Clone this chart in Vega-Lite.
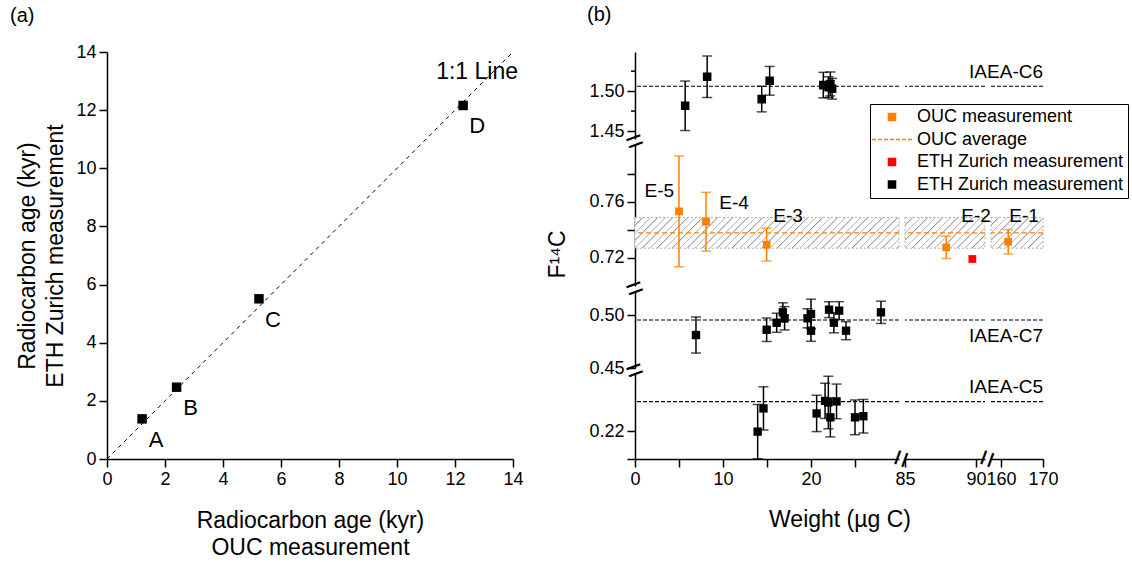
{
"$schema": "https://vega.github.io/schema/vega-lite/v6.json",
"padding": {"left": 10, "top": 5, "right": 5, "bottom": 5},
"background": "white",
"config": {
 "font": "Liberation Sans",
 "view": {"stroke": null},
 "axis": {"domainColor": "#000", "domainWidth": 1.5, "tickColor": "#000", "tickWidth": 1.5, "tickSize": 8, "labelColor": "#000", "labelFontSize": 18, "labelPadding": 3, "titleFontSize": 23, "titleFontWeight": "normal", "titleColor": "#000", "grid": false, "labelFlush": false, "labelOverlap": false},
 "title": {"fontSize": 20, "fontWeight": "normal", "color": "#000"},
 "text": {"color": "#000"}
},
"datasets": {
 "ages": [
  {"ouc": 1.21, "eth": 1.38, "label": "A"},
  {"ouc": 2.40, "eth": 2.47, "label": "B"},
  {"ouc": 5.24, "eth": 5.51, "label": "C"},
  {"ouc": 12.28, "eth": 12.16, "label": "D"}
 ],
 "labels": [
  {"x": 2.76, "y": 0.768, "t": "E-5"},
  {"x": 11.25, "y": 0.7593, "t": "E-4"},
  {"x": 17.4, "y": 0.7502, "t": "E-3"},
  {"x": 90.0, "y": 0.750, "t": "E-2"},
  {"x": 165.5, "y": 0.750, "t": "E-1"}
 ],
 "pts": [
  {"g": "C6", "w": 5.7, "f": 1.4816, "err": 0.031, "s": "ETH Zurich measurement "},
  {"g": "C6", "w": 8.2, "f": 1.518, "err": 0.026, "s": "ETH Zurich measurement "},
  {"g": "C6", "w": 14.4, "f": 1.490, "err": 0.016, "s": "ETH Zurich measurement "},
  {"g": "C6", "w": 15.3, "f": 1.5129, "err": 0.018, "s": "ETH Zurich measurement "},
  {"g": "C6", "w": 21.4, "f": 1.5075, "err": 0.016, "s": "ETH Zurich measurement "},
  {"g": "C6", "w": 22.0, "f": 1.505, "err": 0.013, "s": "ETH Zurich measurement "},
  {"g": "C6", "w": 22.2, "f": 1.509, "err": 0.015, "s": "ETH Zurich measurement "},
  {"g": "C6", "w": 22.4, "f": 1.503, "err": 0.013, "s": "ETH Zurich measurement "},
  {"g": "OUC", "w": 5.0, "f": 0.7533, "err": 0.0396, "s": "OUC measurement"},
  {"g": "OUC", "w": 8.07, "f": 0.7459, "err": 0.021, "s": "OUC measurement"},
  {"g": "OUC", "w": 14.96, "f": 0.7295, "err": 0.0117, "s": "OUC measurement"},
  {"g": "OUC", "w": 87.9, "f": 0.7276, "err": 0.008, "s": "OUC measurement"},
  {"g": "OUC", "w": 161.7, "f": 0.7316, "err": 0.0087, "s": "OUC measurement"},
  {"g": "OUC", "w": 89.74, "f": 0.7193, "err": 0, "s": "ETH Zurich measurement"},
  {"g": "C7", "w": 6.93, "f": 0.4811, "err": 0.017, "s": "ETH Zurich measurement "},
  {"g": "C7", "w": 14.96, "f": 0.4861, "err": 0.011, "s": "ETH Zurich measurement "},
  {"g": "C7", "w": 16.1, "f": 0.4927, "err": 0.009, "s": "ETH Zurich measurement "},
  {"g": "C7", "w": 16.8, "f": 0.5025, "err": 0.009, "s": "ETH Zurich measurement "},
  {"g": "C7", "w": 17.0, "f": 0.4969, "err": 0.011, "s": "ETH Zurich measurement "},
  {"g": "C7", "w": 19.6, "f": 0.4969, "err": 0.009, "s": "ETH Zurich measurement "},
  {"g": "C7", "w": 20.0, "f": 0.5009, "err": 0.014, "s": "ETH Zurich measurement "},
  {"g": "C7", "w": 20.0, "f": 0.4852, "err": 0.010, "s": "ETH Zurich measurement "},
  {"g": "C7", "w": 22.05, "f": 0.505, "err": 0.0075, "s": "ETH Zurich measurement "},
  {"g": "C7", "w": 22.6, "f": 0.4927, "err": 0.0095, "s": "ETH Zurich measurement "},
  {"g": "C7", "w": 23.2, "f": 0.5041, "err": 0.0085, "s": "ETH Zurich measurement "},
  {"g": "C7", "w": 23.98, "f": 0.4852, "err": 0.0085, "s": "ETH Zurich measurement "},
  {"g": "C7", "w": 27.95, "f": 0.5025, "err": 0.0105, "s": "ETH Zurich measurement "},
  {"g": "C5", "w": 13.94, "f": 0.2198, "err": 0.0097, "s": "ETH Zurich measurement "},
  {"g": "C5", "w": 14.6, "f": 0.2281, "err": 0.0077, "s": "ETH Zurich measurement "},
  {"g": "C5", "w": 20.64, "f": 0.2263, "err": 0.0065, "s": "ETH Zurich measurement "},
  {"g": "C5", "w": 21.6, "f": 0.2308, "err": 0.0063, "s": "ETH Zurich measurement "},
  {"g": "C5", "w": 21.97, "f": 0.2302, "err": 0.0094, "s": "ETH Zurich measurement "},
  {"g": "C5", "w": 22.2, "f": 0.2249, "err": 0.007, "s": "ETH Zurich measurement "},
  {"g": "C5", "w": 22.9, "f": 0.2306, "err": 0.0062, "s": "ETH Zurich measurement "},
  {"g": "C5", "w": 25.0, "f": 0.2249, "err": 0.0062, "s": "ETH Zurich measurement "},
  {"g": "C5", "w": 25.95, "f": 0.2253, "err": 0.006, "s": "ETH Zurich measurement "}
 ]
},
"bounds": "flush",
"spacing": 122,
"resolve": {"scale": {"x": "independent", "y": "independent"}, "legend": {"fill": "independent", "stroke": "independent", "shape": "independent"}},
"hconcat": [
 {
  "width": 406, "height": 407,
  "title": {"text": "(a)", "anchor": "start", "frame": "group", "dx": -97, "offset": 17},
  "layer": [
   {"data": {"values": [{}]}, "mark": {"type": "rule", "strokeDash": [4, 4], "strokeWidth": 1, "color": "#000"},
    "encoding": {
     "x": {"datum": 0, "type": "quantitative", "scale": {"domain": [0, 14], "nice": false}, "axis": {"title": ["Radiocarbon age (kyr)", "OUC measurement"], "titleLineHeight": 27, "titlePadding": 21, "values": [0, 2, 4, 6, 8, 10, 12, 14]}},
     "y": {"datum": 0, "type": "quantitative", "scale": {"domain": [0, 14], "nice": false}, "axis": {"title": ["Radiocarbon age (kyr)", "ETH Zurich measurement"], "titleLineHeight": 28, "titlePadding": 8, "values": [0, 2, 4, 6, 8, 10, 12, 14]}},
     "x2": {"datum": 14}, "y2": {"datum": 14}}},
   {"data": {"name": "ages"}, "mark": {"type": "square", "size": 90, "color": "#000", "opacity": 1},
    "encoding": {"x": {"field": "ouc", "type": "quantitative"}, "y": {"field": "eth", "type": "quantitative"}}},
   {"data": {"name": "ages"}, "mark": {"type": "text", "fontSize": 22, "dx": 14, "dy": 21, "align": "center", "baseline": "middle", "color": "#000"},
    "encoding": {"x": {"field": "ouc", "type": "quantitative"}, "y": {"field": "eth", "type": "quantitative"}, "text": {"field": "label"}}},
   {"data": {"values": [{}]}, "mark": {"type": "text", "text": "1:1 Line", "fontSize": 23, "align": "right", "baseline": "middle", "dx": 5, "dy": 20, "color": "#000"},
    "encoding": {"x": {"datum": 14, "type": "quantitative"}, "y": {"datum": 14, "type": "quantitative"}}}
  ]
 },
 {
  "title": {"text": "(b)", "anchor": "start", "frame": "group", "dx": -48, "offset": 27},
  "columns": 3,
  "spacing": 6,
  "bounds": "flush",
  "align": "each",
  "resolve": {"scale": {"x": "independent", "y": "independent"}, "legend": {"fill": "independent", "stroke": "independent", "shape": "independent"}},
  "concat": [
   {"width": 264, "height": 87, "layer": [
    {"data": {"values": [{}]}, "mark": {"type": "rule", "strokeDash": [4, 2], "strokeWidth": 1.2, "color": "#000"},
     "encoding": {"y": {"datum": 1.5061, "type": "quantitative", "title": null, "scale": {"domain": [1.44, 1.549], "nice": false, "zero": false},
      "axis": {"labelOverlap": false, "values": [1.45, 1.5], "format": ".2f"}}}},
    {"data": {"values": [{"v": 1.475}, {"v": 1.525}]}, "mark": {"type": "rule", "strokeWidth": 1.5, "color": "#000"},
     "encoding": {"x": {"datum": -0.45, "type": "quantitative", "axis": null}, "x2": {"datum": 0}, "y": {"field": "v", "type": "quantitative", "title": null}}},
    {"data": {"name": "pts"}, "transform": [{"filter": "datum.g == 'C6' && datum.err > 0"}],
     "mark": {"type": "errorbar", "ticks": {"size": 10, "thickness": 1.5}, "rule": {"strokeWidth": 1.5}},
     "encoding": {"x": {"field": "w", "type": "quantitative", "scale": {"domain": [0, 30], "nice": false, "zero": false}, "axis": null},
      "y": {"field": "f", "type": "quantitative", "title": null}, "yError": {"field": "err"},
      "color": {"field": "s", "type": "nominal", "scale": {"domain": ["OUC measurement", "OUC average", "ETH Zurich measurement", "ETH Zurich measurement "], "range": ["#ff8000", "#ff8000", "#ff0000", "#000000"]}, "legend": null}}},
    {"data": {"name": "pts"}, "transform": [{"filter": "datum.g == 'C6'"}],
     "mark": {"type": "point", "filled": true, "size": 50, "strokeWidth": 1.5, "opacity": 1},
     "encoding": {"x": {"field": "w", "type": "quantitative", "axis": null}, "y": {"field": "f", "type": "quantitative", "title": null},
      "fill": {"field": "s", "type": "nominal", "scale": {"domain": ["OUC measurement", "OUC average", "ETH Zurich measurement", "ETH Zurich measurement "], "range": ["#ff8000", "#ff8000", "#ff0000", "#000000"]},
       "legend": {"title": null, "orient": "none", "legendX": 235, "legendY": 52, "labelFontSize": 18, "labelColor": "#000", "labelLimit": 400, "symbolSize": 50, "symbolStrokeWidth": 1.5, "symbolOffset": 9, "labelOffset": 16, "rowPadding": 4.5, "padding": 4, "strokeColor": "#000", "fillColor": "#fff"}},
      "stroke": {"field": "s", "type": "nominal", "scale": {"domain": ["OUC measurement", "OUC average", "ETH Zurich measurement", "ETH Zurich measurement "], "range": ["#ff8000", "#ff8000", "#ff0000", "#000000"]},
       "legend": {"title": null, "orient": "none", "legendX": 235, "legendY": 52, "labelFontSize": 18, "labelColor": "#000", "labelLimit": 400, "symbolSize": 50, "symbolStrokeWidth": 1.5, "symbolOffset": 9, "labelOffset": 16, "rowPadding": 4.5, "padding": 4, "strokeColor": "#000", "fillColor": "#fff"}},
      "shape": {"field": "s", "type": "nominal", "scale": {"domain": ["OUC measurement", "OUC average", "ETH Zurich measurement", "ETH Zurich measurement "], "range": ["square", "M-5.66,0L-4.53,0M-3.96,0L-2.83,0M-2.26,0L-1.13,0M-0.57,0L0.57,0M1.13,0L2.26,0M2.83,0L3.96,0M4.53,0L5.66,0", "square", "square"]},
       "legend": {"title": null, "orient": "none", "legendX": 235, "legendY": 52, "labelFontSize": 18, "labelColor": "#000", "labelLimit": 400, "symbolSize": 50, "symbolStrokeWidth": 1.5, "symbolOffset": 9, "labelOffset": 16, "rowPadding": 4.5, "padding": 4, "strokeColor": "#000", "fillColor": "#fff"}}}},
    {"data": {"values": [{}]}, "mark": {"type": "text", "text": "=", "fontSize": 30, "angle": -20, "align": "center", "baseline": "middle", "color": "#000"},
     "encoding": {"x": {"datum": 0, "type": "quantitative", "axis": null}, "y": {"datum": 1.44, "type": "quantitative", "title": null}, "yOffset": {"value": 3}}}
   ]},
   {"width": 80, "height": 87, "layer": [
    {"data": {"values": [{}]}, "mark": {"type": "rule", "strokeDash": [4, 2], "strokeWidth": 1.2, "color": "#000"},
     "encoding": {"y": {"datum": 1.5061, "type": "quantitative", "scale": {"domain": [1.44, 1.549], "nice": false, "zero": false}, "axis": null}}}
   ]},
   {"width": 52, "height": 87, "layer": [
    {"data": {"values": [{}]}, "mark": {"type": "rule", "strokeDash": [4, 2], "strokeWidth": 1.2, "color": "#000"},
     "encoding": {"y": {"datum": 1.5061, "type": "quantitative", "scale": {"domain": [1.44, 1.549], "nice": false, "zero": false}, "axis": null}}},
    {"data": {"values": [{}]}, "mark": {"type": "text", "text": "IAEA-C6", "fontSize": 19, "align": "right", "baseline": "middle", "color": "#000"},
     "encoding": {"x": {"datum": 170, "type": "quantitative", "scale": {"domain": [157.6, 170], "nice": false, "zero": false}, "axis": null}, "y": {"datum": 1.524, "type": "quantitative", "axis": null}}}
   ]},
   {"width": 264, "height": 141, "layer": [
    {"data": {"values": [{}]}, "mark": {"type": "rect", "stroke": "#b0b0b0", "strokeDash": [2, 2], "strokeWidth": 1,
      "fill": {"gradient": "linear", "x1": 0, "y1": 0, "x2": 1.1211, "y2": 0.1308, "stops": [
       {"offset":0,"color":"#999"},{"offset":0.006,"color":"#fff"},{"offset":0.024,"color":"#fff"},
       {"offset":0.025,"color":"#999"},{"offset":0.031,"color":"#fff"},{"offset":0.049,"color":"#fff"},
       {"offset":0.05,"color":"#999"},{"offset":0.056,"color":"#fff"},{"offset":0.074,"color":"#fff"},
       {"offset":0.075,"color":"#999"},{"offset":0.081,"color":"#fff"},{"offset":0.099,"color":"#fff"},
       {"offset":0.1,"color":"#999"},{"offset":0.106,"color":"#fff"},{"offset":0.124,"color":"#fff"},
       {"offset":0.125,"color":"#999"},{"offset":0.131,"color":"#fff"},{"offset":0.149,"color":"#fff"},
       {"offset":0.15,"color":"#999"},{"offset":0.156,"color":"#fff"},{"offset":0.174,"color":"#fff"},
       {"offset":0.175,"color":"#999"},{"offset":0.181,"color":"#fff"},{"offset":0.199,"color":"#fff"},
       {"offset":0.2,"color":"#999"},{"offset":0.206,"color":"#fff"},{"offset":0.224,"color":"#fff"},
       {"offset":0.225,"color":"#999"},{"offset":0.231,"color":"#fff"},{"offset":0.249,"color":"#fff"},
       {"offset":0.25,"color":"#999"},{"offset":0.256,"color":"#fff"},{"offset":0.274,"color":"#fff"},
       {"offset":0.275,"color":"#999"},{"offset":0.281,"color":"#fff"},{"offset":0.299,"color":"#fff"},
       {"offset":0.3,"color":"#999"},{"offset":0.306,"color":"#fff"},{"offset":0.324,"color":"#fff"},
       {"offset":0.325,"color":"#999"},{"offset":0.331,"color":"#fff"},{"offset":0.349,"color":"#fff"},
       {"offset":0.35,"color":"#999"},{"offset":0.356,"color":"#fff"},{"offset":0.374,"color":"#fff"},
       {"offset":0.375,"color":"#999"},{"offset":0.381,"color":"#fff"},{"offset":0.399,"color":"#fff"},
       {"offset":0.4,"color":"#999"},{"offset":0.406,"color":"#fff"},{"offset":0.424,"color":"#fff"},
       {"offset":0.425,"color":"#999"},{"offset":0.431,"color":"#fff"},{"offset":0.449,"color":"#fff"},
       {"offset":0.45,"color":"#999"},{"offset":0.456,"color":"#fff"},{"offset":0.474,"color":"#fff"},
       {"offset":0.475,"color":"#999"},{"offset":0.481,"color":"#fff"},{"offset":0.499,"color":"#fff"},
       {"offset":0.5,"color":"#999"},{"offset":0.506,"color":"#fff"},{"offset":0.524,"color":"#fff"},
       {"offset":0.525,"color":"#999"},{"offset":0.531,"color":"#fff"},{"offset":0.549,"color":"#fff"},
       {"offset":0.55,"color":"#999"},{"offset":0.556,"color":"#fff"},{"offset":0.574,"color":"#fff"},
       {"offset":0.575,"color":"#999"},{"offset":0.581,"color":"#fff"},{"offset":0.599,"color":"#fff"},
       {"offset":0.6,"color":"#999"},{"offset":0.606,"color":"#fff"},{"offset":0.624,"color":"#fff"},
       {"offset":0.625,"color":"#999"},{"offset":0.631,"color":"#fff"},{"offset":0.649,"color":"#fff"},
       {"offset":0.65,"color":"#999"},{"offset":0.656,"color":"#fff"},{"offset":0.674,"color":"#fff"},
       {"offset":0.675,"color":"#999"},{"offset":0.681,"color":"#fff"},{"offset":0.699,"color":"#fff"},
       {"offset":0.7,"color":"#999"},{"offset":0.706,"color":"#fff"},{"offset":0.724,"color":"#fff"},
       {"offset":0.725,"color":"#999"},{"offset":0.731,"color":"#fff"},{"offset":0.749,"color":"#fff"},
       {"offset":0.75,"color":"#999"},{"offset":0.756,"color":"#fff"},{"offset":0.774,"color":"#fff"},
       {"offset":0.775,"color":"#999"},{"offset":0.781,"color":"#fff"},{"offset":0.799,"color":"#fff"},
       {"offset":0.8,"color":"#999"},{"offset":0.806,"color":"#fff"},{"offset":0.824,"color":"#fff"},
       {"offset":0.825,"color":"#999"},{"offset":0.831,"color":"#fff"},{"offset":0.849,"color":"#fff"},
       {"offset":0.85,"color":"#999"},{"offset":0.856,"color":"#fff"},{"offset":0.874,"color":"#fff"},
       {"offset":0.875,"color":"#999"},{"offset":0.881,"color":"#fff"},{"offset":0.899,"color":"#fff"},
       {"offset":0.9,"color":"#999"},{"offset":0.906,"color":"#fff"},{"offset":0.924,"color":"#fff"},
       {"offset":0.925,"color":"#999"},{"offset":0.931,"color":"#fff"},{"offset":0.949,"color":"#fff"},
       {"offset":0.95,"color":"#999"},{"offset":0.956,"color":"#fff"},{"offset":0.974,"color":"#fff"},
       {"offset":0.975,"color":"#999"},{"offset":0.981,"color":"#fff"},{"offset":0.999,"color":"#fff"}]}},
     "encoding": {"y": {"datum": 0.727, "type": "quantitative", "title": "F¹⁴C", "scale": {"domain": [0.70, 0.8007], "nice": false, "zero": false},
      "axis": {"titleX": -66, "titleY": 109, "titleBaseline": "bottom", "titleAlign": "center", "values": [0.72, 0.74, 0.76, 0.78], "labelExpr": "indexof([0.72,0.76], datum.value) >= 0 ? format(datum.value, '.2f') : ''", "encode": {"ticks": {"update": {"x2": {"signal": "indexof([0.74,0.78], datum.value) >= 0 ? -4 : -8"}}}}}},
      "y2": {"datum": 0.749}}},
    {"data": {"values": [{}]}, "mark": {"type": "rule", "strokeDash": [5, 3], "strokeWidth": 1.2, "color": "#ff8000"},
     "encoding": {"y": {"datum": 0.738, "type": "quantitative", "title": "F¹⁴C"}}},
    {"data": {"name": "pts"}, "transform": [{"filter": "datum.g == 'OUC' && datum.w <= 30 && datum.err > 0"}],
     "mark": {"type": "errorbar", "ticks": {"size": 10, "thickness": 1.5}, "rule": {"strokeWidth": 1.5}},
     "encoding": {"x": {"field": "w", "type": "quantitative", "scale": {"domain": [0, 30], "nice": false, "zero": false}, "axis": null},
      "y": {"field": "f", "type": "quantitative", "title": "F¹⁴C"}, "yError": {"field": "err"},
      "color": {"field": "s", "type": "nominal", "legend": null}}},
    {"data": {"name": "pts"}, "transform": [{"filter": "datum.g == 'OUC' && datum.w <= 30"}],
     "mark": {"type": "square", "size": 60, "opacity": 1},
     "encoding": {"x": {"field": "w", "type": "quantitative", "axis": null}, "y": {"field": "f", "type": "quantitative", "title": "F¹⁴C"},
      "color": {"field": "s", "type": "nominal", "legend": null}}},
    {"data": {"name": "labels"}, "transform": [{"filter": "datum.x <= 30"}],
     "mark": {"type": "text", "fontSize": 19, "align": "center", "baseline": "middle", "color": "#000"},
     "encoding": {"x": {"field": "x", "type": "quantitative", "axis": null}, "y": {"field": "y", "type": "quantitative", "title": "F¹⁴C"}, "text": {"field": "t"}}},
    {"data": {"values": [{}]}, "mark": {"type": "text", "text": "=", "fontSize": 30, "angle": -20, "align": "center", "baseline": "middle", "color": "#000"},
     "encoding": {"x": {"datum": 0, "type": "quantitative", "axis": null}, "y": {"datum": 0.70, "type": "quantitative", "title": "F¹⁴C"}, "yOffset": {"value": 3}}}
   ]},
   {"width": 80, "height": 141, "layer": [
    {"data": {"values": [{}]}, "mark": {"type": "rect", "stroke": "#b0b0b0", "strokeDash": [2, 2], "strokeWidth": 1,
      "fill": {"gradient": "linear", "x1": 0, "y1": 0, "x2": 3.266, "y2": 1.2574, "stops": [
       {"offset":0,"color":"#999"},{"offset":0.006,"color":"#fff"},{"offset":0.024,"color":"#fff"},
       {"offset":0.025,"color":"#999"},{"offset":0.031,"color":"#fff"},{"offset":0.049,"color":"#fff"},
       {"offset":0.05,"color":"#999"},{"offset":0.056,"color":"#fff"},{"offset":0.074,"color":"#fff"},
       {"offset":0.075,"color":"#999"},{"offset":0.081,"color":"#fff"},{"offset":0.099,"color":"#fff"},
       {"offset":0.1,"color":"#999"},{"offset":0.106,"color":"#fff"},{"offset":0.124,"color":"#fff"},
       {"offset":0.125,"color":"#999"},{"offset":0.131,"color":"#fff"},{"offset":0.149,"color":"#fff"},
       {"offset":0.15,"color":"#999"},{"offset":0.156,"color":"#fff"},{"offset":0.174,"color":"#fff"},
       {"offset":0.175,"color":"#999"},{"offset":0.181,"color":"#fff"},{"offset":0.199,"color":"#fff"},
       {"offset":0.2,"color":"#999"},{"offset":0.206,"color":"#fff"},{"offset":0.224,"color":"#fff"},
       {"offset":0.225,"color":"#999"},{"offset":0.231,"color":"#fff"},{"offset":0.249,"color":"#fff"},
       {"offset":0.25,"color":"#999"},{"offset":0.256,"color":"#fff"},{"offset":0.274,"color":"#fff"},
       {"offset":0.275,"color":"#999"},{"offset":0.281,"color":"#fff"},{"offset":0.299,"color":"#fff"},
       {"offset":0.3,"color":"#999"},{"offset":0.306,"color":"#fff"},{"offset":0.324,"color":"#fff"},
       {"offset":0.325,"color":"#999"},{"offset":0.331,"color":"#fff"},{"offset":0.349,"color":"#fff"},
       {"offset":0.35,"color":"#999"},{"offset":0.356,"color":"#fff"},{"offset":0.374,"color":"#fff"}]}},
     "encoding": {"y": {"datum": 0.727, "type": "quantitative", "scale": {"domain": [0.70, 0.8007], "nice": false, "zero": false}, "axis": null}, "y2": {"datum": 0.749}}},
    {"data": {"values": [{}]}, "mark": {"type": "rule", "strokeDash": [5, 3], "strokeWidth": 1.2, "color": "#ff8000"},
     "encoding": {"y": {"datum": 0.738, "type": "quantitative", "axis": null}}},
    {"data": {"name": "pts"}, "transform": [{"filter": "datum.g == 'OUC' && datum.w >= 80 && datum.w <= 100 && datum.err > 0"}],
     "mark": {"type": "errorbar", "ticks": {"size": 10, "thickness": 1.5}, "rule": {"strokeWidth": 1.5}},
     "encoding": {"x": {"field": "w", "type": "quantitative", "scale": {"domain": [85, 90.63], "nice": false, "zero": false}, "axis": null},
      "y": {"field": "f", "type": "quantitative", "axis": null}, "yError": {"field": "err"},
      "color": {"field": "s", "type": "nominal", "legend": null}}},
    {"data": {"name": "pts"}, "transform": [{"filter": "datum.g == 'OUC' && datum.w >= 80 && datum.w <= 100"}],
     "mark": {"type": "square", "size": 60, "opacity": 1},
     "encoding": {"x": {"field": "w", "type": "quantitative", "axis": null}, "y": {"field": "f", "type": "quantitative", "axis": null},
      "color": {"field": "s", "type": "nominal", "legend": null}}},
    {"data": {"name": "labels"}, "transform": [{"filter": "datum.x >= 80 && datum.x <= 100"}],
     "mark": {"type": "text", "fontSize": 19, "align": "center", "baseline": "middle", "color": "#000"},
     "encoding": {"x": {"field": "x", "type": "quantitative", "axis": null}, "y": {"field": "y", "type": "quantitative", "axis": null}, "text": {"field": "t"}}}
   ]},
   {"width": 52, "height": 141, "layer": [
    {"data": {"values": [{}]}, "mark": {"type": "rect", "stroke": "#b0b0b0", "strokeDash": [2, 2], "strokeWidth": 1,
      "fill": {"gradient": "linear", "x1": 0, "y1": 0, "x2": 4.271, "y2": 2.530, "stops": [
       {"offset":0,"color":"#999"},{"offset":0.006,"color":"#fff"},{"offset":0.024,"color":"#fff"},
       {"offset":0.025,"color":"#999"},{"offset":0.031,"color":"#fff"},{"offset":0.049,"color":"#fff"},
       {"offset":0.05,"color":"#999"},{"offset":0.056,"color":"#fff"},{"offset":0.074,"color":"#fff"},
       {"offset":0.075,"color":"#999"},{"offset":0.081,"color":"#fff"},{"offset":0.099,"color":"#fff"},
       {"offset":0.1,"color":"#999"},{"offset":0.106,"color":"#fff"},{"offset":0.124,"color":"#fff"},
       {"offset":0.125,"color":"#999"},{"offset":0.131,"color":"#fff"},{"offset":0.149,"color":"#fff"},
       {"offset":0.15,"color":"#999"},{"offset":0.156,"color":"#fff"},{"offset":0.174,"color":"#fff"},
       {"offset":0.175,"color":"#999"},{"offset":0.181,"color":"#fff"},{"offset":0.199,"color":"#fff"},
       {"offset":0.2,"color":"#999"},{"offset":0.206,"color":"#fff"},{"offset":0.224,"color":"#fff"},
       {"offset":0.225,"color":"#999"},{"offset":0.231,"color":"#fff"},{"offset":0.249,"color":"#fff"},
       {"offset":0.25,"color":"#999"},{"offset":0.256,"color":"#fff"},{"offset":0.274,"color":"#fff"},
       {"offset":0.275,"color":"#999"},{"offset":0.281,"color":"#fff"},{"offset":0.299,"color":"#fff"}]}},
     "encoding": {"y": {"datum": 0.727, "type": "quantitative", "scale": {"domain": [0.70, 0.8007], "nice": false, "zero": false}, "axis": null}, "y2": {"datum": 0.749}}},
    {"data": {"values": [{}]}, "mark": {"type": "rule", "strokeDash": [5, 3], "strokeWidth": 1.2, "color": "#ff8000"},
     "encoding": {"y": {"datum": 0.738, "type": "quantitative", "axis": null}}},
    {"data": {"name": "pts"}, "transform": [{"filter": "datum.g == 'OUC' && datum.w >= 150 && datum.err > 0"}],
     "mark": {"type": "errorbar", "ticks": {"size": 10, "thickness": 1.5}, "rule": {"strokeWidth": 1.5}},
     "encoding": {"x": {"field": "w", "type": "quantitative", "scale": {"domain": [157.6, 170], "nice": false, "zero": false}, "axis": null},
      "y": {"field": "f", "type": "quantitative", "axis": null}, "yError": {"field": "err"},
      "color": {"field": "s", "type": "nominal", "legend": null}}},
    {"data": {"name": "pts"}, "transform": [{"filter": "datum.g == 'OUC' && datum.w >= 150"}],
     "mark": {"type": "square", "size": 60, "opacity": 1},
     "encoding": {"x": {"field": "w", "type": "quantitative", "axis": null}, "y": {"field": "f", "type": "quantitative", "axis": null},
      "color": {"field": "s", "type": "nominal", "legend": null}}},
    {"data": {"name": "labels"}, "transform": [{"filter": "datum.x >= 150"}],
     "mark": {"type": "text", "fontSize": 19, "align": "center", "baseline": "middle", "color": "#000"},
     "encoding": {"x": {"field": "x", "type": "quantitative", "axis": null}, "y": {"field": "y", "type": "quantitative", "axis": null}, "text": {"field": "t"}}}
   ]},
   {"width": 264, "height": 76, "layer": [
    {"data": {"values": [{}]}, "mark": {"type": "rule", "strokeDash": [4, 2], "strokeWidth": 1.2, "color": "#000"},
     "encoding": {"y": {"datum": 0.4953, "type": "quantitative", "title": null, "scale": {"domain": [0.45, 0.5217], "nice": false, "zero": false},
      "axis": {"labelOverlap": false, "values": [0.45, 0.475, 0.5], "labelExpr": "indexof([0.45,0.5], datum.value) >= 0 ? format(datum.value, '.2f') : ''", "encode": {"ticks": {"update": {"x2": {"signal": "indexof([0.475], datum.value) >= 0 ? -4 : -8"}}}}}}}},
    {"data": {"name": "pts"}, "transform": [{"filter": "datum.g == 'C7' && datum.err > 0"}],
     "mark": {"type": "errorbar", "ticks": {"size": 10, "thickness": 1.5}, "rule": {"strokeWidth": 1.5}},
     "encoding": {"x": {"field": "w", "type": "quantitative", "scale": {"domain": [0, 30], "nice": false, "zero": false}, "axis": null},
      "y": {"field": "f", "type": "quantitative", "title": null}, "yError": {"field": "err"},
      "color": {"field": "s", "type": "nominal", "legend": null}}},
    {"data": {"name": "pts"}, "transform": [{"filter": "datum.g == 'C7'"}],
     "mark": {"type": "square", "size": 70, "opacity": 1},
     "encoding": {"x": {"field": "w", "type": "quantitative", "axis": null}, "y": {"field": "f", "type": "quantitative", "title": null},
      "color": {"field": "s", "type": "nominal", "legend": null}}},
    {"data": {"values": [{}]}, "mark": {"type": "text", "text": "=", "fontSize": 30, "angle": -20, "align": "center", "baseline": "middle", "color": "#000"},
     "encoding": {"x": {"datum": 0, "type": "quantitative", "axis": null}, "y": {"datum": 0.45, "type": "quantitative", "title": null}, "yOffset": {"value": 3}}}
   ]},
   {"width": 80, "height": 76, "layer": [
    {"data": {"values": [{}]}, "mark": {"type": "rule", "strokeDash": [4, 2], "strokeWidth": 1.2, "color": "#000"},
     "encoding": {"y": {"datum": 0.4953, "type": "quantitative", "scale": {"domain": [0.45, 0.5217], "nice": false, "zero": false}, "axis": null}}}
   ]},
   {"width": 52, "height": 76, "layer": [
    {"data": {"values": [{}]}, "mark": {"type": "rule", "strokeDash": [4, 2], "strokeWidth": 1.2, "color": "#000"},
     "encoding": {"y": {"datum": 0.4953, "type": "quantitative", "scale": {"domain": [0.45, 0.5217], "nice": false, "zero": false}, "axis": null}}},
    {"data": {"values": [{}]}, "mark": {"type": "text", "text": "IAEA-C7", "fontSize": 19, "align": "right", "baseline": "middle", "color": "#000"},
     "encoding": {"x": {"datum": 170, "type": "quantitative", "scale": {"domain": [157.6, 170], "nice": false, "zero": false}, "axis": null}, "y": {"datum": 0.4802, "type": "quantitative", "axis": null}}}
   ]},
   {"width": 264, "height": 85, "layer": [
    {"data": {"values": [{}]}, "mark": {"type": "rule", "strokeDash": [4, 2], "strokeWidth": 1.2, "color": "#000"},
     "encoding": {"y": {"datum": 0.2305, "type": "quantitative", "title": null, "scale": {"domain": [0.21, 0.2404], "nice": false, "zero": false},
      "axis": {"labelOverlap": false, "values": [0.21, 0.22], "labelExpr": "indexof([0.22], datum.value) >= 0 ? format(datum.value, '.2f') : ''", "encode": {"ticks": {"update": {"x2": {"signal": "indexof([0.21], datum.value) >= 0 ? -4 : -8"}}}}}}}},
    {"data": {"name": "pts"}, "transform": [{"filter": "datum.g == 'C5' && datum.err > 0"}],
     "mark": {"type": "errorbar", "ticks": {"size": 10, "thickness": 1.5}, "rule": {"strokeWidth": 1.5}},
     "encoding": {"x": {"field": "w", "type": "quantitative", "title": "Weight (µg C)", "scale": {"domain": [0, 30], "nice": false, "zero": false},
       "axis": {"titleX": 204.5, "titlePadding": 20, "values": [0, 5, 10, 15, 20, 25], "labelExpr": "indexof([0,10,20], datum.value) >= 0 ? datum.label : ''", "encode": {"ticks": {"update": {"y2": {"signal": "indexof([5,15,25], datum.value) >= 0 ? 4 : 8"}}}}}},
      "y": {"field": "f", "type": "quantitative", "title": null}, "yError": {"field": "err"},
      "color": {"field": "s", "type": "nominal", "legend": null}}},
    {"data": {"name": "pts"}, "transform": [{"filter": "datum.g == 'C5'"}],
     "mark": {"type": "square", "size": 70, "opacity": 1},
     "encoding": {"x": {"field": "w", "type": "quantitative", "title": "Weight (µg C)"}, "y": {"field": "f", "type": "quantitative", "title": null},
      "color": {"field": "s", "type": "nominal", "legend": null}}}
   ]},
   {"width": 80, "height": 85, "layer": [
    {"data": {"values": [{}]}, "mark": {"type": "rule", "strokeDash": [4, 2], "strokeWidth": 1.2, "color": "#000"},
     "encoding": {
      "x": {"datum": 85, "type": "quantitative", "title": null, "scale": {"domain": [85, 90.63], "nice": false, "zero": false},
       "axis": {"values": [85, 87.5, 90], "labelExpr": "indexof([85,90], datum.value) >= 0 ? datum.label : ''", "encode": {"ticks": {"update": {"y2": {"signal": "indexof([87.5], datum.value) >= 0 ? 4 : 8"}}}}}},
      "x2": {"datum": 90.63},
      "y": {"datum": 0.2305, "type": "quantitative", "scale": {"domain": [0.21, 0.2404], "nice": false, "zero": false}, "axis": null}}},
    {"data": {"values": [{}]}, "mark": {"type": "text", "text": "=", "fontSize": 30, "angle": -70, "align": "center", "baseline": "middle", "color": "#000"},
     "encoding": {"x": {"datum": 85, "type": "quantitative", "title": null}, "y": {"datum": 0.21, "type": "quantitative", "axis": null}, "xOffset": {"value": -3}}},
    {"data": {"values": [{}]}, "mark": {"type": "text", "text": "=", "fontSize": 30, "angle": -70, "align": "center", "baseline": "middle", "color": "#000"},
     "encoding": {"x": {"datum": 90.63, "type": "quantitative", "title": null}, "y": {"datum": 0.21, "type": "quantitative", "axis": null}, "xOffset": {"value": 3}}}
   ]},
   {"width": 52, "height": 85, "layer": [
    {"data": {"values": [{}]}, "mark": {"type": "rule", "strokeDash": [4, 2], "strokeWidth": 1.2, "color": "#000"},
     "encoding": {"y": {"datum": 0.2305, "type": "quantitative", "scale": {"domain": [0.21, 0.2404], "nice": false, "zero": false}, "axis": null}}},
    {"data": {"values": [{}]}, "mark": {"type": "text", "text": "IAEA-C5", "fontSize": 19, "align": "right", "baseline": "middle", "color": "#000"},
     "encoding": {"x": {"datum": 170, "type": "quantitative", "title": null, "scale": {"domain": [157.6, 170], "nice": false, "zero": false},
       "axis": {"values": [160, 170]}},
      "y": {"datum": 0.2357, "type": "quantitative", "axis": null}}}
   ]}
  ]
 }
]
}
